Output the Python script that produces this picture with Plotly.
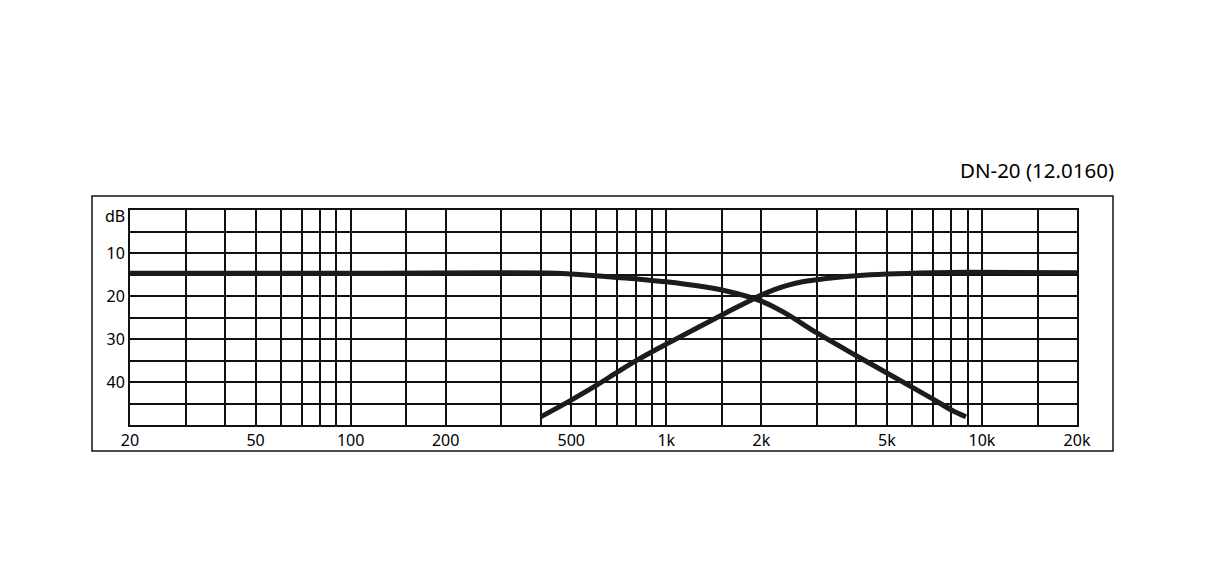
import plotly.graph_objects as go

# frequency response, values (dB attenuation)
lp_freq = [20, 100, 450, 500, 600, 700, 800, 900, 1000, 1500, 1900, 2000, 2200, 2450, 3000, 4000, 5000, 6000, 7000, 8000, 8900]
lp_db = [14.7, 14.7, 14.7, 14.9, 15.3, 15.7, 16.0, 16.4, 16.7, 18.6, 20.6, 21.2, 22.6, 24.5, 28.6, 33.9, 37.9, 41.2, 44.0, 46.5, 48.1]

hp_freq = [400, 500, 600, 700, 800, 900, 1000, 1500, 1900, 2000, 2200, 2450, 2700, 3000, 4000, 5000, 7000, 9000, 20000]
hp_db = [48.1, 44.2, 40.8, 37.7, 35.1, 33.0, 31.2, 24.4, 20.6, 19.8, 18.5, 17.4, 16.7, 16.2, 15.3, 14.9, 14.6, 14.5, 14.6]

# grid lines and labels
x_grid = [20, 30, 40, 50, 60, 70, 80, 90, 100, 150, 200, 300, 400, 500, 600, 700, 800, 900,
          1000, 1500, 2000, 3000, 4000, 5000, 6000, 7000, 8000, 9000, 10000, 15000, 20000]
x_labels = {20: '20', 50: '50', 100: '100', 200: '200', 500: '500', 1000: '1k',
            2000: '2k', 5000: '5k', 10000: '10k', 20000: '20k'}
y_grid = [0, 5, 10, 15, 20, 25, 30, 35, 40, 45, 50]
y_labels = {10: '10', 20: '20', 30: '30', 40: '40'}

title_text = 'DN-20 (12.0160)'
unit_text = 'dB'

curve_color = '#1e1b1c'
grid_color = '#111111'
text_color = '#000000'
font_family = 'Noto Sans, Open Sans, sans-serif'

fig = go.Figure()
for fx, fy in [(lp_freq, lp_db), (hp_freq, hp_db)]:
    fig.add_trace(go.Scatter(x=fx, y=fy, mode='lines',
                             line=dict(color=curve_color, width=5, shape='spline', smoothing=1.0),
                             hoverinfo='skip', showlegend=False))

fig.update_xaxes(type='log', range=[1.30103, 4.30103],
                 tickvals=x_grid, ticktext=[x_labels.get(v, '') for v in x_grid],
                 showgrid=True, gridcolor=grid_color, gridwidth=2,
                 showline=True, linecolor=grid_color, linewidth=2, mirror=True,
                 ticks='', zeroline=False,
                 tickfont=dict(family=font_family, size=16, color=text_color))
fig.update_yaxes(range=[50, 0],
                 tickvals=y_grid, ticktext=[y_labels.get(v, '') for v in y_grid],
                 showgrid=True, gridcolor=grid_color, gridwidth=2,
                 showline=True, linecolor=grid_color, linewidth=2, mirror=True,
                 ticks='', zeroline=False,
                 tickfont=dict(family=font_family, size=16, color=text_color))

# outer frame
fig.add_shape(type='rect', xref='paper', yref='paper',
              x0=-0.0401, x1=1.038, y0=-0.121, y1=1.065,
              line=dict(color=grid_color, width=1.5), layer='below')

fig.add_annotation(text=title_text, xref='paper', yref='paper', x=1.041, y=1.186,
                   xanchor='right', yanchor='middle', showarrow=False,
                   font=dict(family=font_family, size=20.5, color=text_color))
fig.add_annotation(text=unit_text, xref='paper', yref='paper', x=0, y=0.972,
                   xanchor='right', yanchor='middle', xshift=-3, showarrow=False,
                   font=dict(family=font_family, size=16, color=text_color))

# page body has an 8px margin, so the figure is sized to sit inside it
fig.update_layout(width=1193, height=557,
                  margin=dict(l=122, r=124, t=202, b=140),
                  paper_bgcolor='white', plot_bgcolor='white')

fig.write_html("out.html")
